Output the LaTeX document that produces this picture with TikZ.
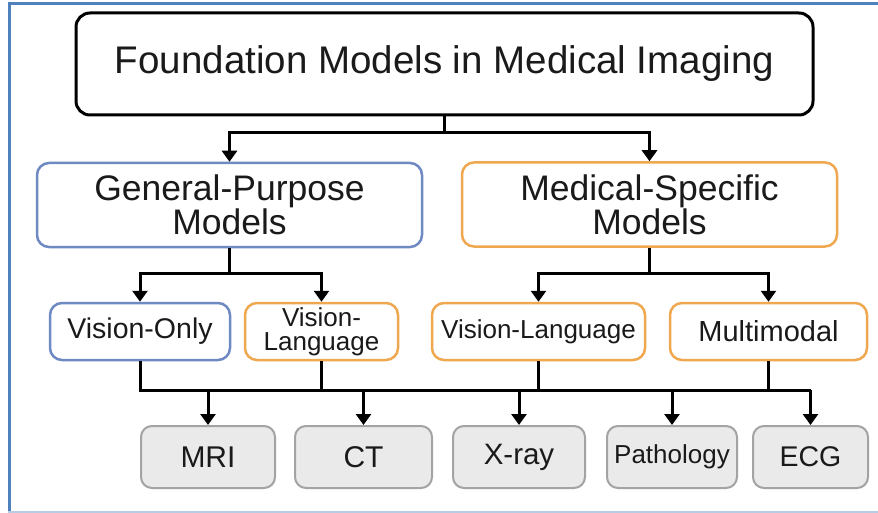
\documentclass[tikz,border=0pt]{standalone}
\usepackage{fontspec}
\setmainfont{Liberation Sans}
\usetikzlibrary{arrows.meta}
\definecolor{frameblue}{HTML}{4F81BD}
\definecolor{framelight}{HTML}{B8CCE4}
\definecolor{boxblue}{HTML}{6F89C2}
\definecolor{boxorange}{HTML}{F0A850}
\definecolor{graybox}{HTML}{EAEAEA}
\definecolor{grayline}{HTML}{A3A3A3}
\definecolor{textdark}{HTML}{1A1A1A}
\tikzset{
  conn/.style={line width=3pt, black},
  arr/.style={conn, -{Triangle[length=11pt,width=15pt]}},
  basebox/.style={rectangle, inner sep=0pt, align=center, text=textdark},
  topbox/.style={basebox, draw=black, line width=3pt, rounded corners=14pt, fill=white,
    minimum width=737pt, minimum height=102pt},
  bluebox/.style={basebox, draw=boxblue, line width=2.5pt, rounded corners=12pt, fill=white},
  orangebox/.style={basebox, draw=boxorange, line width=2.5pt, rounded corners=12pt, fill=white},
  graynode/.style={basebox, draw=grayline, line width=2pt, rounded corners=11pt, fill=graybox,
    minimum height=62pt},
  midsize/.style={minimum width=#1, minimum height=84pt},
  lowsize/.style={minimum width=#1, minimum height=57pt},
}
\begin{document}
\begin{tikzpicture}[x=1pt,y=-1pt]
\useasboundingbox (0,0) rectangle (878,513);
\fill[white] (0,0) rectangle (878,513);
% frame
\draw[framelight, line width=2pt] (8,511.5) -- (878,511.5);
\draw[frameblue, line width=3pt] (9.5,511) -- (9.5,3.5) -- (878,3.5);

% nodes
\node[topbox, font=\fontsize{38.5}{40}\selectfont] (top) at (444.5,64) {Foundation Models in Medical Imaging};

\node[bluebox, midsize=385pt, font=\fontsize{35.5}{26.5}\selectfont] (gp) at (229.5,205) {General-Purpose\\Models};
\node[orangebox, midsize=375pt, font=\fontsize{35.5}{26.5}\selectfont] (ms) at (649.5,204.5) {Medical-Specific\\Models};

\node[bluebox, lowsize=180pt, font=\fontsize{28.5}{30}\selectfont] (vo) at (140,331.5) {Vision-Only};
\node[orangebox, lowsize=153pt, font=\fontsize{26}{24}\selectfont] (vl1) at (321.5,331.5) {Vision-\\Language};
\node[orangebox, lowsize=213pt, font=\fontsize{26}{28}\selectfont] (vl2) at (538.5,331.5) {Vision-Language};
\node[orangebox, lowsize=197pt, font=\fontsize{29}{30}\selectfont] (mm) at (768.5,331.5) {Multimodal};

\node[graynode, minimum width=134pt, font=\fontsize{30}{30}\selectfont] (mri) at (208,457) {MRI};
\node[graynode, minimum width=137pt, font=\fontsize{30}{30}\selectfont] (ct) at (363.5,457) {CT};
\node[graynode, minimum width=132pt, font=\fontsize{29.5}{30}\selectfont] (xray) at (519,457) {X-ray};
\node[graynode, minimum width=130pt, font=\fontsize{26}{30}\selectfont] (path) at (672,457) {Pathology};
\node[graynode, minimum width=115pt, font=\fontsize{28.5}{30}\selectfont] (ecg) at (810.5,457) {ECG};

% bus coordinates
\coordinate (b1) at (0,133);
\coordinate (b2) at (0,273);
\coordinate (b3) at (0,390);

% level 1 -> 2
\draw[conn] (top.south) -- (top.south |- b1);
\draw[arr] (top.south |- b1) -| (gp.north);
\draw[arr] (top.south |- b1) -| (ms.north);

% level 2 -> 3
\draw[conn] (gp.south) -- (gp.south |- b2);
\draw[arr] (gp.south |- b2) -| (vo.north);
\draw[arr] (gp.south |- b2) -| (vl1.north);
\draw[conn] (ms.south) -- (ms.south |- b2);
\draw[arr] (ms.south |- b2) -| (vl2.north);
\draw[arr] (ms.south |- b2) -| (mm.north);

% level 3 -> 4
\draw[conn] (vo.south) |- (ecg.north |- b3);
\draw[conn] (vl1.south) -- (vl1.south |- b3);
\draw[conn] (vl2.south) -- (vl2.south |- b3);
\draw[conn] (mm.south) -- (mm.south |- b3);
\draw[arr] (mri.north |- b3) -- (mri.north);
\draw[arr] (ct.north |- b3) -- (ct.north);
\draw[arr] (xray.north |- b3) -- (xray.north);
\draw[arr] (path.north |- b3) -- (path.north);
\draw[arr] (ecg.north |- b3) -- (ecg.north);
\end{tikzpicture}
\end{document}
